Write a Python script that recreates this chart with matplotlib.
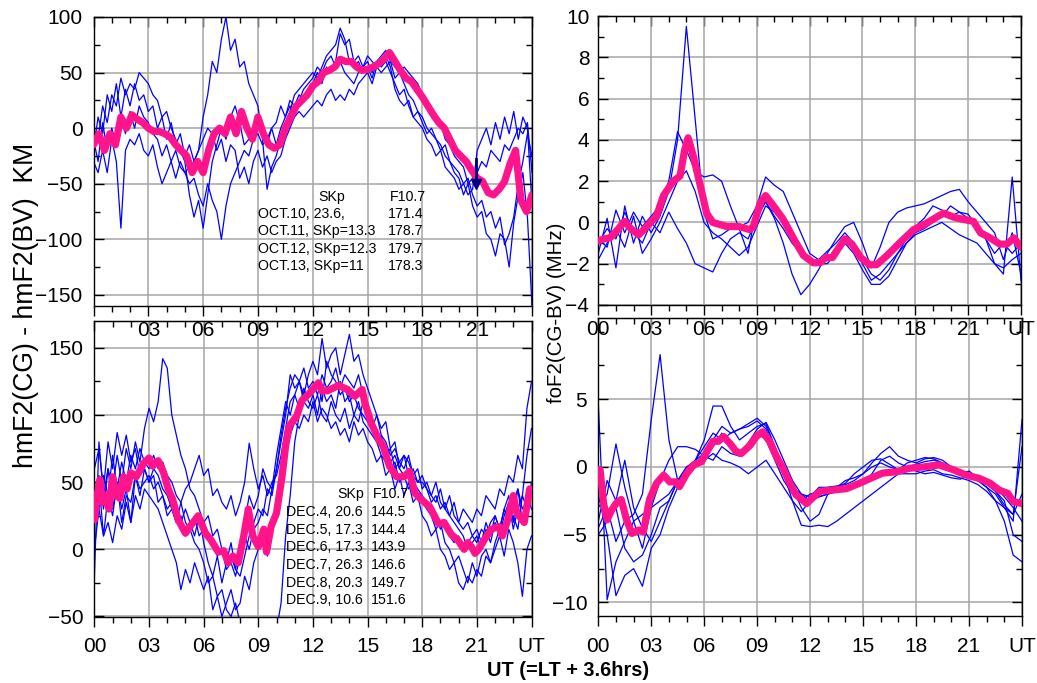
import matplotlib
matplotlib.use('Agg')
import matplotlib.pyplot as plt
import numpy as np
from matplotlib.ticker import MultipleLocator

plt.rcParams['font.family'] = ['Liberation Sans', 'DejaVu Sans']

# ---------------- data ----------------
hq = np.arange(97) * 0.25      # quarter-hour grid (left panels)
hh = np.arange(49) * 0.5       # half-hour grid (right panels)

# top-left: hmF2(CG)-hmF2(BV), October
tl_oct10 = [-20, 10, -5, 30, 15, 40, 10, 35, 20, 40, 25, 30,
            15, 20, 0, 10, -10, 5, -15, -5, -25, -15, -30, -20,
            10, 30, 60, 50, 80, 100, 70, 80, 55, 60, 40, 30,
            20, -10, -55, -35, -25, -10, 5, 15, 30, 35, 40, 45,
            50, 45, 55, 65, 70, 75, 90, 80, 60, 55, 60, 50,
            55, 45, 60, 65, 70, 60, 45, 50, 40, 30, 25, 15,
            10, 0, -5, -10, -15, -25, -30, -40, -45, -60, -50, -70,
            -80, -75, -95, -100, -115, -95, -100, -125, -85, -60, -40, -80,
            -160]
tl_oct11 = [-30, -40, -20, -40, -10, -30, -90, -20, -10, -15, -5, -20,
            -25, -15, -35, -50, -40, -30, -45, -30, -40, -35, -30, -20,
            -10, 0, -5, -20, -10, -30, -15, -20, -45, -35, -50, -30,
            -20, -35, -25, -40, -30, -25, -10, 0, 10, 15, 10, 15,
            20, 25, 20, 30, 35, 25, 30, 25, 35, 30, 40, 45,
            50, 40, 55, 50, 55, 60, 55, 50, 55, 50, 45, 40,
            30, 25, 15, 10, 5, -10, -15, -25, -30, -35, -50, -45,
            -40, -30, -35, -20, -25, -30, -15, -20, -10, 0, -5, 5,
            -40]
tl_oct12 = [0, -10, 20, 5, 30, 20, 45, 30, 40, 35, 50, 45,
            40, 30, 25, 10, 15, 0, -10, -20, -30, -60, -80, -65,
            -90, -60, -30, -15, 0, -10, 10, 20, 5, -15, -10, 0,
            10, -5, -15, 0, 5, 20, 10, 25, 20, 30, 25, 35,
            40, 50, 40, 55, 50, 60, 85, 75, 80, 60, 65, 55,
            60, 50, 60, 55, 60, 50, 40, 30, 35, 20, 10, 15,
            5, -5, 0, -10, -20, -15, -30, -35, -40, -50, -45, -60,
            -70, -65, -80, -75, -90, -80, -105, -95, -80, -50, -30, -5,
            -25]
tl_oct13 = [-10, -30, 5, -20, 0, -15, 10, -5, 15, 0, 20, 10,
            5, -5, -10, -25, -15, -30, -20, -35, -40, -50, -45, -60,
            -70, -50, -65, -75, -100, -70, -50, -40, -30, -20, -25, -10,
            -5, -15, -10, 0, -15, 0, 10, 20, 15, 25, 35, 40,
            45, 55, 50, 60, 65, 55, 60, 50, 45, 40, 50, 55,
            65, 60, 55, 60, 65, 55, 35, 25, 20, 25, 10, 5,
            0, -10, -15, -25, -20, -35, -40, -45, -55, -50, -60, -55,
            -20, -10, 0, -15, 5, -10, 10, -5, 15, -10, 10, 0,
            -70]
tl_mean_h = np.arange(81) * 0.3
tl_mean_v = [-15, -5, -20, -5, -15, 10, 0, 12, 8, 5,
             0, -3, -3, -5, -8, -15, -20, -25, -40, -30,
             -40, -20, -5, 0, -5, 10, -5, 15, 0, -10,
             10, -5, -15, -18, -15, 0, 10, 20, 25, 30,
             38, 42, 50, 52, 55, 62, 60, 60, 55, 52,
             53, 55, 58, 62, 68, 60, 52, 45, 42, 35,
             28, 20, 12, 5, 0, -10, -20, -25, -30, -38,
             -45, -48, -58, -60, -55, -48, -32, -20, -65, -75,
             -60]
tl_mark_h = [20.95, 20.95]
tl_mark_v = [-28, -50]

# top-right: foF2(CG-BV), October
tr_l1 = [-1.5, 0.2, -2.2, 0.8, -1.0, 0.3, -0.5, 0.3, 1.5, 4.0, 9.5, 5.0,
         0.5, -0.8, -0.6, -0.3, -0.2, 0.0, 0.8, 1.0, 0.3, -0.3, -1.0, -1.5,
         -1.8, -1.9, -1.8, -1.2, -0.9, -1.2, -2.0, -2.8, -2.5, -2.0, -1.5, -1.0,
         -0.6, -0.4, -0.2, 0.0, -0.3, -0.6, -0.8, -1.0, -1.5, -2.0, -2.5, 2.2,
         -2.8]
tr_l2 = [-0.8, -1.2, 0.6, -0.5, 0.5, -0.2, 0.3, 0.8, 2.0, 4.4, 3.5, 2.5,
         2.2, 2.3, 2.0, 0.8, -0.3, -1.5, 0.8, 2.2, 1.8, 1.5, 0.5, -0.5,
         -1.5, -1.8, -1.4, -1.0, -0.5, -1.0, -1.8, -2.5, -2.8, -2.3, -1.5, -0.8,
         -0.2, 0.2, 0.8, 0.6, 0.3, 0.5, 0.2, -0.3, -0.8, -1.5, -1.0, -1.5,
         -1.0]
tr_l3 = [-1.0, -0.3, -0.8, 0.5, -0.5, -1.0, 0.0, -0.5, 0.5, -0.3, -1.0, -2.0,
         -2.2, -2.4, -1.5, -0.8, -0.5, -0.8, 0.2, 1.0, 0.2, -1.0, -2.5, -3.5,
         -3.0, -2.3, -1.5, -0.8, -0.2, 0.0, -1.0, -2.2, -1.2, 0.0, 0.5, 0.7,
         0.8, 0.9, 1.1, 1.3, 1.5, 1.6, 1.0, 0.5, 0.0, -0.5, -1.8, -0.5,
         -2.5]
tr_l4 = [-1.8, -1.0, -0.3, -1.2, 0.3, -1.5, -0.8, 0.0, 1.0, 2.0, 2.5, 1.5,
         0.0, -0.5, -0.8, -1.2, -1.6, -1.2, -0.2, 0.8, 0.5, 0.0, -0.8, -1.5,
         -1.8, -2.0, -2.0, -1.5, -1.0, -1.5, -2.3, -3.0, -3.0, -2.6, -1.8, -1.0,
         -0.5, -0.3, 0.0, 0.3, 0.8, 0.5, 0.4, -0.2, -0.8, -2.0, -2.2, -1.8,
         -1.5]
tr_mean_h = [0.0, 0.3, 0.66, 1.1, 1.5, 1.9, 2.3, 2.75, 3.3, 3.7,
             4.26, 4.64, 4.9, 5.1, 5.4, 5.8, 6.15, 6.5, 7.3, 8.0,
             8.6, 8.8, 9.2, 9.5, 9.95, 10.5, 11.1, 11.65, 12.2, 12.6,
             12.9, 13.3, 13.6, 14.0, 14.4, 14.9, 15.4, 15.8, 16.4, 17.1,
             17.9, 18.5, 19.0, 19.6, 20.2, 20.7, 21.3, 21.7, 22.25, 22.8,
             23.2, 23.6, 24.0]
tr_mean_v = [-0.9, -0.8, -0.75, -0.35, 0.05, -0.35, -0.6, -0.2, 0.3, 1.3,
             2.0, 2.25, 3.5, 4.1, 3.2, 1.75, 0.45, 0.0, -0.2, -0.2,
             -0.35, -0.2, 0.95, 1.3, 0.8, 0.15, -0.8, -1.6, -1.95, -1.95,
             -1.7, -1.7, -1.3, -0.8, -1.05, -1.7, -2.05, -2.05, -1.6, -1.0,
             -0.35, -0.1, 0.15, 0.45, 0.25, 0.15, 0.05, -0.5, -0.75, -1.05,
             -1.05, -0.75, -1.2]

# bottom-left: hmF2(CG)-hmF2(BV), December
bl_l1 = [40, 55, 30, 60, 45, 70, 50, 75, 60, 80, 65, 90,
         105, 95, 110, 142, 135, 100, 85, 70, 60, 45, 40, 30,
         20, 25, 10, 15, 0, -10, 5, -15, -20, -5, 10, 20,
         30, 25, 45, 40, 60, 80, 100, 130, 120, 125, 115, 130,
         140, 130, 157, 135, 145, 150, 130, 145, 160, 140, 145, 130,
         120, 110, 100, 90, 95, 75, 80, 60, 70, 65, 55, 60,
         45, 50, 40, 35, 45, 30, 25, 35, 20, 30, 25, 20,
         30, 25, 40, 35, 30, 45, 40, 55, 50, 70, 60, 105,
         125]
bl_l2 = [20, 50, 10, 40, 25, 50, 30, 45, 20, 55, 40, 60,
         50, 60, 55, 45, 40, 30, 20, 25, 10, 15, 5, 0,
         -10, -25, -20, -35, -30, -45, -50, -40, -55, -60, -70, -75,
         -65, -60, -80, -70, -60, -40, 10, 40, 80, 100, 110, 105,
         115, 100, 120, 110, 115, 105, 125, 110, 115, 100, 110, 95,
         90, 85, 80, 70, 65, 60, 65, 50, 55, 45, 50, 40,
         35, 30, 25, 15, 20, 5, 0, -10, -5, -15, -25, -10,
         -20, -5, 0, -10, 5, 15, 10, 20, 25, 15, 40, 30,
         50]
bl_l3 = [60, 75, 45, 80, 60, 87, 70, 85, 65, 75, 55, 60,
         50, 55, 35, 40, 25, 30, 20, 35, 45, 50, 60, 70,
         55, 60, 40, 45, 35, 30, 40, 25, 35, 50, 79, 60,
         45, 55, 40, 50, 55, 70, 90, 110, 115, 105, 120, 110,
         105, 115, 100, 95, 110, 100, 95, 105, 90, 100, 95, 110,
         100, 95, 80, 85, 70, 75, 60, 65, 70, 55, 60, 50,
         55, 45, 40, 50, 35, 30, 40, 25, 20, 15, 20, 10,
         15, 5, 20, 10, 25, 15, 30, 20, 35, 45, 20, 40,
         30]
bl_l4 = [0, 30, 10, 20, 5, 25, 15, 35, 20, 40, 30, 45,
         40, 35, 30, 20, 10, 0, -10, -30, -15, -25, -10, -20,
         -30, -20, -45, -35, -50, -40, -30, -45, -40, -20, -30, -10,
         0, 10, -5, 15, 30, 55, 70, 85, 95, 90, 100, 95,
         110, 95, 105, 100, 90, 95, 85, 90, 80, 95, 85, 90,
         80, 75, 65, 70, 55, 60, 45, 55, 40, 50, 35, 40,
         25, 20, 10, 15, 0, -5, -15, -10, -25, -30, -20, -25,
         -15, -20, -5, -10, 0, 10, -5, 15, 5, -10, -35, 0,
         10]
bl_l5 = [50, 30, 55, 40, 70, 45, 65, 50, 70, 60, 75, 65,
         60, 70, 60, 65, 55, 50, 40, 35, 20, 15, 25, 10,
         15, 10, 5, -5, 0, -15, -10, -20, -5, 10, 0, 15,
         20, 30, 25, 45, 60, 85, 105, 120, 130, 125, 135, 120,
         125, 115, 130, 120, 125, 135, 120, 130, 125, 120, 130, 115,
         105, 95, 85, 80, 70, 65, 70, 60, 55, 60, 50, 45,
         40, 35, 30, 25, 15, 20, 10, 5, 10, 0, 5, 10,
         5, 15, 10, 20, 25, 15, 30, 40, 20, 45, 30, 35,
         40]
bl_l6 = [-20, 80, 40, 60, 30, 50, 20, 40, 35, 55, 45, 50,
         55, 45, 50, 40, 30, 35, 25, 20, 30, 20, 10, 25,
         5, -10, -20, -5, -25, -10, -5, -15, 5, 20, 40, 30,
         40, 60, 50, 45, 70, 90, 110, 100, 115, 125, 110, 115,
         120, 125, 110, 140, 130, 125, 115, 120, 110, 115, 105, 100,
         95, 90, 100, 85, 80, 70, 75, 65, 60, 70, 55, 50,
         50, 45, 35, 40, 30, 35, 25, 20, 15, 10, 0, 5,
         10, 0, 15, 5, 20, 10, 25, 35, 15, 30, 40, 70,
         90]
bl_mean_h = [0.0, 0.15, 0.3, 0.45, 0.6, 0.8, 1.0, 1.2, 1.4, 1.6,
             1.8, 2.0, 2.3, 2.7, 3.0, 3.2, 3.5, 3.8, 4.05, 4.3,
             4.6, 5.0, 5.25, 5.7, 6.1, 6.4, 6.8, 7.1, 7.35, 7.6,
             7.9, 8.2, 8.45, 8.7, 9.0, 9.3, 9.45, 9.7, 10.0, 10.3,
             10.5, 10.7, 11.1, 11.4, 11.8, 12.3, 12.5, 12.8, 13.1, 13.4,
             13.9, 14.3, 14.7, 14.85, 15.2, 15.6, 15.85, 16.2, 16.6, 17.0,
             17.3, 17.6, 17.95, 18.4, 18.9, 19.2, 19.6, 19.95, 20.3, 20.5,
             20.7, 20.9, 21.1, 21.4, 21.8, 22.2, 22.4, 22.7, 23.0, 23.2,
             23.6, 23.9, 24.0]
bl_mean_v = [22, 40, 52, 35, 40, 30, 54, 40, 38, 54,
             45, 57, 54, 64, 68, 62, 66, 57, 45, 37,
             22, 12, 17, 25, 12, 7, -2, -1, -10, -5,
             -10, 10, 30, 10, 2, 15, -2, 17, 27, 54,
             77, 92, 99, 111, 116, 124, 118, 118, 120, 122,
             119, 114, 119, 109, 94, 82, 77, 62, 54, 54,
             58, 42, 37, 32, 19, 20, 11, 7, 0, 5,
             2, -3, 0, 7, 15, 17, 10, 22, 40, 27,
             20, 45, 42]

# bottom-right: foF2(CG-BV), December
br_l1 = [-4.5, -3.0, -5.5, -4.0, -3.5, -2.0, 3.5, 8.3, 2.0, -1.0, -0.5, 0.5,
         1.5, 2.5, 2.0, 2.5, 2.8, 3.0, 3.4, 2.8, 1.0, -0.5, -1.5, -2.0,
         -2.2, -1.5, -1.5, -1.4, -1.3, -1.0, -0.5, 0.3, 1.0, 1.5, 0.8, 0.5,
         0.3, 0.6, 0.7, 0.5, 0.0, -0.5, -0.7, -1.0, -1.5, -2.0, -3.0, -4.0,
         3.5]
br_l2 = [4.7, -9.8, -7.0, -5.5, -4.0, -3.5, -3.0, -2.5, -2.0, -1.0, 0.0, 0.5,
         1.0, 2.0, 3.0, 2.5, 2.8, 3.2, 3.6, 3.0, 1.5, 0.0, -1.5, -3.0,
         -4.0, -3.5, -2.0, -1.8, -1.5, -1.5, -1.2, -0.5, 0.5, 0.8, 0.3, 0.0,
         -0.3, -0.5, -0.4, -0.6, -0.8, -0.9, -0.6, -1.0, -1.5, -2.5, -4.0, -6.5,
         -7.0]
br_l3 = [-2.0, -5.0, -9.5, -8.0, -7.5, -8.8, -6.0, -5.0, -3.0, -1.5, -0.5, 0.5,
         2.0, 4.5, 4.5, 3.0, 2.0, 2.5, 3.0, 3.2, 1.5, -0.5, -2.5, -4.3,
         -4.4, -4.3, -4.4, -4.0, -3.5, -3.0, -2.5, -2.0, -1.5, -1.0, -0.5, -0.5,
         -0.5, -0.3, -0.2, -0.5, -0.6, -0.8, -1.0, -1.3, -1.8, -2.5, -3.0, -3.5,
         1.5]
br_l4 = [-3.0, -2.0, 1.7, -1.5, -4.0, -6.0, -3.0, -1.0, 0.5, 1.5, 1.5, 1.3,
         0.8, 0.5, 1.5, 1.0, 0.8, 1.5, 2.5, 2.0, 0.5, -1.0, -2.0, -2.5,
         -2.0, -1.8, -1.5, -1.5, -1.2, -0.5, 0.0, 0.5, 0.6, 0.2, -0.2, 0.3,
         0.5, 0.7, 0.6, 0.3, 0.0, -0.5, -0.7, -1.0, -1.3, -1.8, -2.5, -5.0,
         -5.5]
br_l5 = [-4.0, -1.0, -2.5, 0.5, -3.0, -4.5, -5.5, -4.0, -2.5, -1.0, 0.0, 0.3,
         0.5, 1.0, 0.5, 0.3, 0.0, -0.5, 0.0, 0.5, -0.5, -1.5, -2.5, -3.3,
         -2.5, -2.2, -2.0, -1.8, -1.5, -1.2, -1.0, -0.8, -0.5, -0.5, -0.3, 0.0,
         0.2, 0.4, 0.5, 0.3, -0.3, -0.5, -0.3, -0.8, -1.0, -1.5, -2.2, -3.0,
         -4.0]
br_l6 = [-5.0, -4.0, -3.0, -6.0, -7.0, -6.5, -5.0, -3.0, -2.5, -1.0, -0.5, 0.0,
         0.5, 1.5, 2.5, 1.5, 1.0, 1.8, 2.8, 3.3, 2.0, 0.5, -1.0, -2.0,
         -2.5, -2.2, -2.0, -1.5, -1.0, -0.8, -0.5, 0.0, 0.3, 0.0, -0.2, -0.3,
         0.0, 0.2, 0.3, 0.0, -0.2, -0.4, -0.5, -0.7, -1.0, -1.8, -2.8, -3.5,
         -2.0]
br_mean_h = [0.0, 0.1, 0.3, 0.5, 0.75, 1.0, 1.3, 1.6, 1.9, 2.3,
             2.55, 2.9, 3.3, 3.7, 4.05, 4.4, 4.6, 5.0, 5.4, 5.85,
             6.2, 6.5, 6.8, 7.1, 7.45, 7.8, 8.1, 8.6, 8.95, 9.3,
             9.7, 10.1, 10.5, 10.85, 11.2, 11.8, 12.2, 12.55, 13.3, 14.05,
             14.8, 15.4, 16.1, 16.9, 17.6, 18.4, 19.3, 20.1, 20.85, 21.6,
             22.2, 22.7, 23.2, 23.5, 24.0]
br_mean_v = [-0.2, -0.2, -2.7, -3.9, -3.2, -2.7, -2.4, -3.9, -4.9, -4.65,
             -4.8, -2.4, -1.2, -0.6, -1.1, -1.1, -1.45, -0.5, 0.15, 0.4,
             1.25, 1.9, 1.9, 2.25, 1.75, 1.15, 1.0, 1.6, 2.25, 2.6,
             1.9, 0.75, -0.2, -1.2, -2.05, -2.7, -2.2, -1.8, -1.7, -1.6,
             -1.2, -0.85, -0.45, -0.35, -0.1, 0.0, 0.15, -0.2, -0.6, -0.85,
             -1.2, -1.7, -1.95, -2.55, -2.7]

x_ticks = [0, 3, 6, 9, 12, 15, 18, 21, 24]
x_labels_full = ['00', '03', '06', '09', '12', '15', '18', '21', 'UT']
x_labels_tl = ['', '03', '06', '09', '12', '15', '18', '21', '']

oct_rows = ['OCT.10, 23.6,', 'OCT.11, SKp=13.3', 'OCT.12, SKp=12.3', 'OCT.13, SKp=11']
oct_f107 = ['171.4', '178.7', '179.7', '178.3']
dec_rows = ['DEC.4, 20.6', 'DEC.5, 17.3', 'DEC.6, 17.3', 'DEC.7, 26.3', 'DEC.8, 20.3', 'DEC.9, 10.6']
dec_f107 = ['144.5', '144.4', '143.9', '146.6', '149.7', '151.6']

# ---------------- figure ----------------
W, H = 1037, 683
fig = plt.figure(figsize=(W / 100, H / 100), dpi=100)
BLUE = '#0000ff'
PINK = '#ff148c'
GRID = '#a6a6a6'


def rect(l, t, r, b):
    return [l / W, 1 - b / H, (r - l) / W, (b - t) / H]


def style(ax, ylim, yticks, yminor, xlabels, xpad, ypad):
    ax.set_xlim(0, 24)
    ax.set_ylim(*ylim)
    ax.set_xticks(x_ticks)
    ax.set_xticklabels(xlabels)
    ax.xaxis.set_minor_locator(MultipleLocator(1))
    ax.set_yticks(yticks)
    ax.yaxis.set_minor_locator(MultipleLocator(yminor))
    ax.grid(True, which='major', color=GRID, lw=1.1)
    ax.set_axisbelow(True)
    ax.tick_params(axis='x', which='both', direction='out', top=False,
                   labelsize=15, pad=xpad, color='black')
    ax.tick_params(axis='x', which='major', length=7, width=1)
    ax.tick_params(axis='x', which='minor', length=4.3, width=1)
    ax.tick_params(axis='y', which='both', direction='in', left=True, right=True,
                   labelsize=15, pad=ypad)
    ax.tick_params(axis='y', which='major', length=7, width=1)
    ax.tick_params(axis='y', which='minor', length=4.3, width=1)
    for s in ax.spines.values():
        s.set_color('black')
        s.set_linewidth(1.0)
    sec = ax.secondary_xaxis('top')
    sec.set_xticks(x_ticks)
    sec.set_xticklabels([])
    sec.xaxis.set_minor_locator(MultipleLocator(1))
    sec.tick_params(axis='x', which='both', direction='in')
    sec.tick_params(axis='x', which='major', length=7, width=1)
    sec.tick_params(axis='x', which='minor', length=4.3, width=1)


def draw(ax, hours, lines, mh, mv):
    for v in lines:
        ax.plot(hours, v, color=BLUE, lw=0.9, zorder=2)
    ax.plot(mh, mv, color=PINK, lw=5.2, zorder=3,
            solid_joinstyle='round', solid_capstyle='round')


# bottom axes first so that upper tick labels are drawn above them
ax_bl = fig.add_axes(rect(94.4, 321, 531.5, 616.5))
ax_br = fig.add_axes(rect(598.3, 318, 1022, 616))
ax_tl = fig.add_axes(rect(93.5, 17, 532, 306))
ax_tr = fig.add_axes(rect(598.3, 16, 1021, 305))

style(ax_tl, (-160, 100), [-150, -100, -50, 0, 50, 100], 25, x_labels_tl, 3.8, 8)
style(ax_tr, (-4, 10), [-4, -2, 0, 2, 4, 6, 8, 10], 1, x_labels_full, 3.8, 6.5)
style(ax_bl, (-50, 170), [-50, 0, 50, 100, 150], 25, x_labels_full, 8.1, 8)
style(ax_br, (-11, 11), [-10, -5, 0, 5], 2.5, x_labels_full, 8.1, 8)

draw(ax_tl, hq, [tl_oct10, tl_oct11, tl_oct12, tl_oct13], tl_mean_h, tl_mean_v)
ax_tl.plot(tl_mark_h, tl_mark_v, color='#000080', lw=2, zorder=4)
ax_tl.plot(tl_mark_h[-1:], tl_mark_v[-1:], color='#000080', marker='v', ms=7, zorder=4)
draw(ax_tr, hh, [tr_l1, tr_l2, tr_l3, tr_l4], tr_mean_h, tr_mean_v)
draw(ax_bl, hq, [bl_l1, bl_l2, bl_l3, bl_l4, bl_l5, bl_l6], bl_mean_h, bl_mean_v)
draw(ax_br, hh, [br_l1, br_l2, br_l3, br_l4, br_l5, br_l6], br_mean_h, br_mean_v)

# annotation tables
afs = 10.2
ax_tl.text(12.3, -62, 'SKp', fontsize=afs, va='center', zorder=5)
ax_tl.text(16.2, -62, 'F10.7', fontsize=afs, va='center', zorder=5)
for i, (r, f) in enumerate(zip(oct_rows, oct_f107)):
    y = -77.5 - 15.4 * i
    ax_tl.text(9.0, y, r, fontsize=afs, va='center', zorder=5)
    ax_tl.text(16.1, y, f, fontsize=afs, va='center', zorder=5)

ax_bl.text(13.35, 40.9, 'SKp', fontsize=afs, va='center', zorder=5)
ax_bl.text(15.3, 40.9, 'F10.7', fontsize=afs, va='center', zorder=5)
for i, (r, f) in enumerate(zip(dec_rows, dec_f107)):
    y = 27.9 - 13.15 * i
    ax_bl.text(10.5, y, r, fontsize=afs, va='center', zorder=5)
    ax_bl.text(15.17, y, f, fontsize=afs, va='center', zorder=5)

# axis labels
fig.text(26 / W, 1 - 305 / H, 'hmF2(CG) - hmF2(BV)  KM', rotation=90,
         fontsize=19.2, ha='center', va='center')
fig.text(557 / W, 1 - 313 / H, 'foF2(CG-BV) (MHz)', rotation=90,
         fontsize=14.8, ha='center', va='center')
fig.text(568 / W, 1 - 676.3 / H, 'UT (=LT + 3.6hrs)', fontsize=14.4,
         fontweight='bold', ha='center', va='baseline')

fig.savefig('out.png', dpi=100)
